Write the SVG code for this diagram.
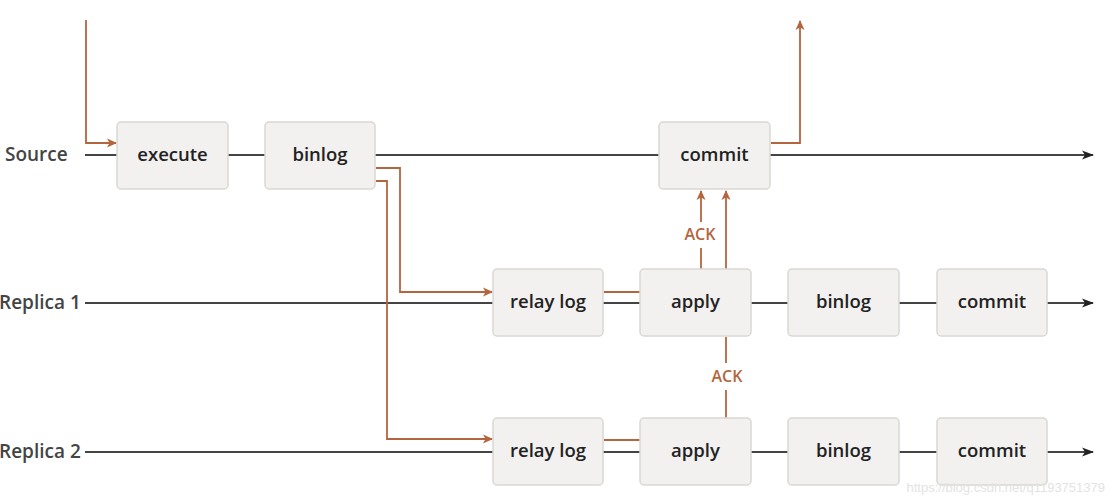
<svg xmlns="http://www.w3.org/2000/svg" width="1112" height="500" viewBox="0 0 1112 500">
<defs>
<marker id="ao" markerWidth="10" markerHeight="10" refX="9" refY="5" orient="auto" markerUnits="userSpaceOnUse">
<path d="M0,0.5 L10,5 L0,9.5 L2.5,5 Z" fill="#b5653e"/>
</marker>
<marker id="ak" markerWidth="12" markerHeight="10" refX="11" refY="5" orient="auto" markerUnits="userSpaceOnUse">
<path d="M0,0.5 L12,5 L0,9.5 L3,5 Z" fill="#222"/>
</marker>
<style>
.box{fill:#f2f1ef;stroke:#d9d7d3;stroke-width:1.5}
.bt{font-family:"Open Sans","Noto Sans",sans-serif;font-size:18.5px;font-weight:600;fill:#222;text-anchor:middle}
.lane{font-family:"Open Sans","Noto Sans",sans-serif;font-size:19px;font-weight:600;fill:#444}
.tl{stroke:#444;stroke-width:1.8;fill:none}
.or{stroke:#b5653e;stroke-width:1.8;fill:none}
.ack{font-family:"Open Sans","Noto Sans",sans-serif;font-size:16px;font-weight:600;fill:#b5653e;text-anchor:middle}
</style>
</defs>
<rect width="1112" height="500" fill="#fff"/>
<g id="labels">
<text class="lane" x="5" y="161">Source</text>
<text class="lane" x="-1" y="309">Replica 1</text>
<text class="lane" x="-1" y="458">Replica 2</text>
</g>
<g id="connectors">
<line class="tl" x1="85" y1="155" x2="1093" y2="155" marker-end="url(#ak)"/>
<line class="tl" x1="85" y1="303" x2="1093" y2="303" marker-end="url(#ak)"/>
<line class="tl" x1="85" y1="452" x2="1093" y2="452" marker-end="url(#ak)"/>
<polyline class="or" points="86,20 86,143 116,143" marker-end="url(#ao)"/>
<polyline class="or" points="771,143 800,143 800,21" marker-end="url(#ao)"/>
<polyline class="or" points="376,168 400,168 400,292 492,292" marker-end="url(#ao)"/>
<polyline class="or" points="376,181 387,181 387,439 492,439" marker-end="url(#ao)"/>
<line class="or" x1="604" y1="292" x2="640" y2="292"/>
<line class="or" x1="604" y1="440" x2="640" y2="440"/>
<line class="or" x1="701" y1="222" x2="701" y2="191" marker-end="url(#ao)"/>
<line class="or" x1="701" y1="248" x2="701" y2="269"/>
<line class="or" x1="726" y1="269" x2="726" y2="191" marker-end="url(#ao)"/>
<line class="or" x1="726" y1="337" x2="726" y2="363"/>
<line class="or" x1="726" y1="390" x2="726" y2="418"/>
<text class="ack" x="700" y="240">ACK</text>
<text class="ack" x="727" y="382">ACK</text>
</g>
<g id="src-execute"><rect class="box" x="117" y="122" width="111" height="67" rx="4"/><text class="bt" x="172.5" y="161">execute</text></g>
<g id="src-binlog"><rect class="box" x="265" y="122" width="110" height="67" rx="4"/><text class="bt" x="320" y="161">binlog</text></g>
<g id="src-commit"><rect class="box" x="659" y="122" width="111" height="67" rx="4"/><text class="bt" x="714.5" y="161">commit</text></g>
<g id="r1-relay"><rect class="box" x="493" y="269" width="110" height="67" rx="4"/><text class="bt" x="548" y="308">relay log</text></g>
<g id="r1-apply"><rect class="box" x="640" y="269" width="111" height="67" rx="4"/><text class="bt" x="695.5" y="308">apply</text></g>
<g id="r1-binlog"><rect class="box" x="788" y="269" width="111" height="67" rx="4"/><text class="bt" x="843.5" y="308">binlog</text></g>
<g id="r1-commit"><rect class="box" x="937" y="269" width="110" height="67" rx="4"/><text class="bt" x="992" y="308">commit</text></g>
<g id="r2-relay"><rect class="box" x="493" y="418" width="110" height="67" rx="4"/><text class="bt" x="548" y="457">relay log</text></g>
<g id="r2-apply"><rect class="box" x="640" y="418" width="111" height="67" rx="4"/><text class="bt" x="695.5" y="457">apply</text></g>
<g id="r2-binlog"><rect class="box" x="788" y="418" width="111" height="67" rx="4"/><text class="bt" x="843.5" y="457">binlog</text></g>
<g id="r2-commit"><rect class="box" x="937" y="418" width="110" height="67" rx="4"/><text class="bt" x="992" y="457">commit</text></g>
<text x="1105" y="492" font-family="Liberation Sans, sans-serif" font-size="13" fill="#e3e3e3" text-anchor="end">https://blog.csdn.net/q1193751379</text>
</svg>
